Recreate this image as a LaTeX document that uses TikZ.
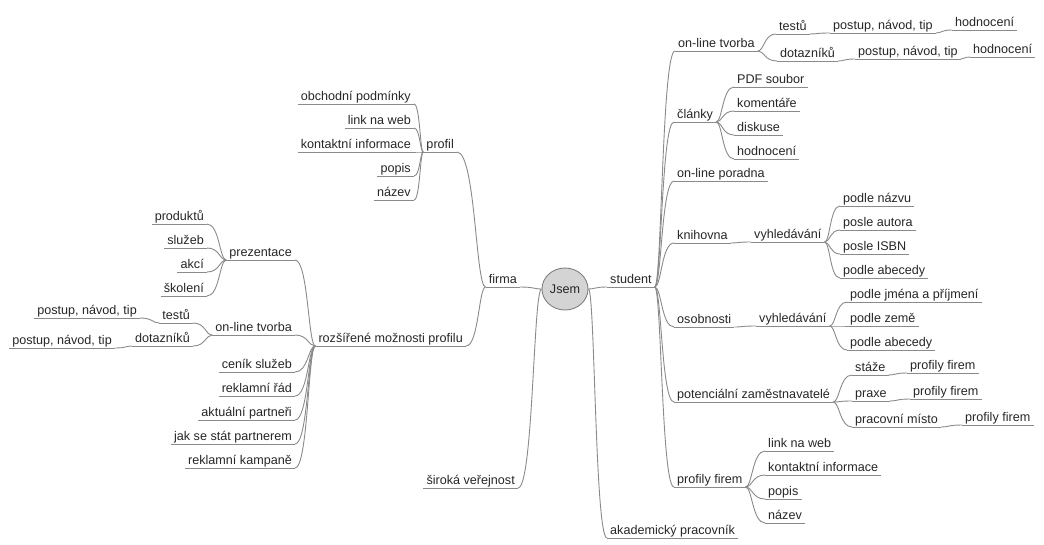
\documentclass[tikz,border=0pt]{standalone}
\usepackage{fontspec}
\setmainfont{Liberation Sans}
\usetikzlibrary{calc,shapes.geometric}

\definecolor{linec}{RGB}{138,138,138}
\definecolor{textc}{RGB}{38,38,38}
\definecolor{rootfill}{RGB}{212,212,212}
\definecolor{rootdraw}{RGB}{128,128,128}

\begin{document}
\begin{tikzpicture}[x=1pt,y=-1pt,
  uline/.style={draw=linec,line width=.9pt},
  topic/.style={inner xsep=3pt,inner ysep=3.5pt,text depth=0pt,text=textc,
    font=\fontsize{12.6}{14}\selectfont,
    append after command={(\tikzlastnode.south west) edge[uline] (\tikzlastnode.south east)}},
  rt/.style={topic,anchor=south west},
  lt/.style={topic,anchor=south east},
  root/.style={ellipse,draw=rootdraw,line width=.9pt,fill=rootfill,minimum width=46pt,
    minimum height=42pt,inner sep=0pt,text=textc,font=\fontsize{12.6}{14}\selectfont},
  branch/.style={color=linec,line width=.9pt,
    to path={.. controls ($(\tikztostart)!.35!(\tikztotarget |- \tikztostart)$)
      and ($(\tikztostart |- \tikztotarget)!.35!(\tikztotarget)$) .. (\tikztotarget)}}]
\useasboundingbox (0,0) rectangle (1044,544);

   \node[root] (Jsem) at (565,289) {Jsem};
   % firma side
   \node[lt] (Fir) at (520,287) {firma};
   \node[lt] (Pro) at (457,152) {profil};
   \node[lt] (Obc) at (414,104) {obchodní podmínky};
   \node[lt] (LinL) at (414,128) {link na web};
   \node[lt] (KonL) at (414,152) {kontaktní informace};
   \node[lt] (PopL) at (414,176) {popis};
   \node[lt] (NazL) at (414,200) {název};
   \node[lt] (Roz) at (466,346) {rozšířené možnosti profilu};
   \node[lt] (Pre) at (295,260) {prezentace};
   \node[lt] (Prd) at (207,224) {produktů};
   \node[lt] (Slu) at (207,248) {služeb};
   \node[lt] (Akc) at (207,272) {akcí};
   \node[lt] (Sko) at (207,296) {školení};
   \node[lt] (OtvL) at (295,335) {on-line tvorba};
   \node[lt] (TesL) at (193,323) {testů};
   \node[lt] (PntL1) at (140,318) {postup, návod, tip};
   \node[lt] (DotL) at (193,346) {dotazníků};
   \node[lt] (PntL2) at (115,348) {postup, návod, tip};
   \node[lt] (Cen) at (295,372) {ceník služeb};
   \node[lt] (Rad) at (295,396) {reklamní řád};
   \node[lt] (Par) at (295,420) {aktuální partneři};
   \node[lt] (Jak) at (295,444) {jak se stát partnerem};
   \node[lt] (Kam) at (295,468) {reklamní kampaně};
   \node[lt] (Sir) at (518,488) {široká veřejnost};
   % student side
   \node[rt] (Stu) at (607,287) {student};
   \node[rt] (OtvR) at (675,51) {on-line tvorba};
   \node[rt] (TesR) at (776,34) {testů};
   \node[rt] (PntR1) at (830,33) {postup, návod, tip};
   \node[rt] (HodR1) at (952,30) {hodnocení};
   \node[rt] (DotR) at (777,61) {dotazníků};
   \node[rt] (PntR2) at (855,59) {postup, návod, tip};
   \node[rt] (HodR2) at (970,57) {hodnocení};
   \node[rt] (Cla) at (674,122) {články};
   \node[rt] (Pdf) at (734,87) {PDF soubor};
   \node[rt] (Kom) at (734,111) {komentáře};
   \node[rt] (Dis) at (734,135) {diskuse};
   \node[rt] (Hod) at (734,159) {hodnocení};
   \node[rt] (Por) at (674,181) {on-line poradna};
   \node[rt] (Kni) at (674,243) {knihovna};
   \node[rt] (VyhK) at (751,242) {vyhledávání};
   \node[rt] (Naz) at (840,206) {podle názvu};
   \node[rt] (Aut) at (840,230) {posle autora};
   \node[rt] (Isb) at (840,254) {posle ISBN};
   \node[rt] (AbcK) at (840,278) {podle abecedy};
   \node[rt] (Oso) at (674,327) {osobnosti};
   \node[rt] (VyhO) at (756,326) {vyhledávání};
   \node[rt] (Jme) at (847,302) {podle jména a příjmení};
   \node[rt] (Zem) at (847,326) {podle země};
   \node[rt] (AbcO) at (847,350) {podle abecedy};
   \node[rt] (Pot) at (674,402) {potenciální zaměstnavatelé};
   \node[rt] (Sta) at (852,375) {stáže};
   \node[rt] (PfSta) at (907,373) {profily firem};
   \node[rt] (Pra) at (852,401) {praxe};
   \node[rt] (PfPra) at (910,399) {profily firem};
   \node[rt] (Mis) at (852,427) {pracovní místo};
   \node[rt] (PfMis) at (962,425) {profily firem};
   \node[rt] (PfR) at (674,487) {profily firem};
   \node[rt] (LinR) at (765,451) {link na web};
   \node[rt] (KonR) at (765,475) {kontaktní informace};
   \node[rt] (PopR) at (765,499) {popis};
   \node[rt] (NazR) at (765,523) {název};
   \node[rt] (Aka) at (607,538) {akademický pracovník};

    \path[branch]
    (Jsem.west) edge (Fir.south east)
                edge (Sir.south east)
    (Jsem.east) edge (Stu.south west)
                edge (Aka.south west)
    (Fir.south west) edge (Pro.south east)
                     edge (Roz.south east)
    (Pro.south west) edge (Obc.south east)
                     edge (LinL.south east)
                     edge (KonL.south east)
                     edge (PopL.south east)
                     edge (NazL.south east)
    (Roz.south west) edge (Pre.south east)
                     edge (OtvL.south east)
                     edge (Cen.south east)
                     edge (Rad.south east)
                     edge (Par.south east)
                     edge (Jak.south east)
                     edge (Kam.south east)
    (Pre.south west) edge (Prd.south east)
                     edge (Slu.south east)
                     edge (Akc.south east)
                     edge (Sko.south east)
    (OtvL.south west) edge (TesL.south east)
                      edge (DotL.south east)
    (TesL.south west) edge (PntL1.south east)
    (DotL.south west) edge (PntL2.south east)
    (Stu.south east) edge (OtvR.south west)
                     edge (Cla.south west)
                     edge (Por.south west)
                     edge (Kni.south west)
                     edge (Oso.south west)
                     edge (Pot.south west)
                     edge (PfR.south west)
    (OtvR.south east) edge (TesR.south west)
                      edge (DotR.south west)
    (TesR.south east) edge (PntR1.south west)
    (PntR1.south east) edge (HodR1.south west)
    (DotR.south east) edge (PntR2.south west)
    (PntR2.south east) edge (HodR2.south west)
    (Cla.south east) edge (Pdf.south west)
                     edge (Kom.south west)
                     edge (Dis.south west)
                     edge (Hod.south west)
    (Kni.south east) edge (VyhK.south west)
    (VyhK.south east) edge (Naz.south west)
                      edge (Aut.south west)
                      edge (Isb.south west)
                      edge (AbcK.south west)
    (Oso.south east) edge (VyhO.south west)
    (VyhO.south east) edge (Jme.south west)
                      edge (Zem.south west)
                      edge (AbcO.south west)
    (Pot.south east) edge (Sta.south west)
                     edge (Pra.south west)
                     edge (Mis.south west)
    (Sta.south east) edge (PfSta.south west)
    (Pra.south east) edge (PfPra.south west)
    (Mis.south east) edge (PfMis.south west)
    (PfR.south east) edge (LinR.south west)
                     edge (KonR.south west)
                     edge (PopR.south west)
                     edge (NazR.south west);
\end{tikzpicture}
\end{document}
